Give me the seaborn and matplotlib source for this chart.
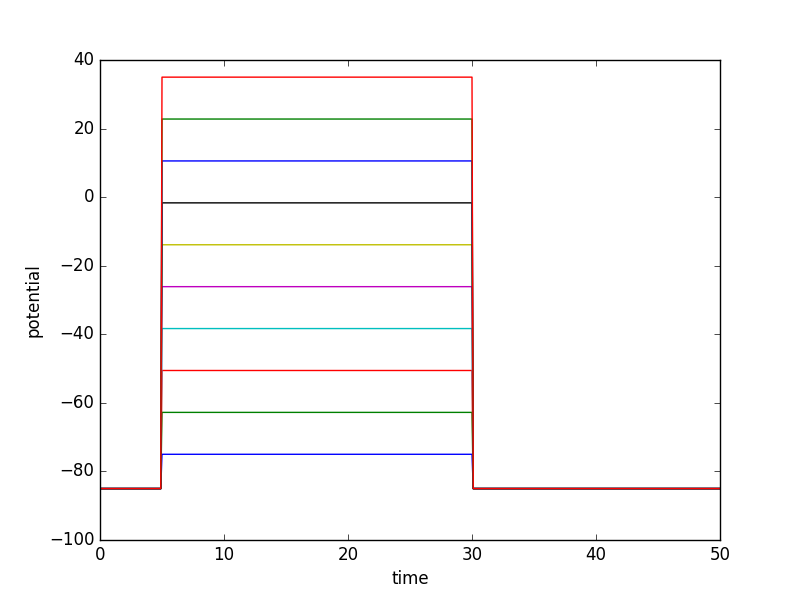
import matplotlib
matplotlib.use("Agg")
import matplotlib.pyplot as plt
import seaborn as sns
import pandas as pd

plt.style.use("classic")

time_points = [0.0, 4.9, 5.0, 30.0, 30.1, 50.0]
rest_potential = -85.0
step_levels = [-75.0, -62.78, -50.56, -38.33, -26.11, -13.89, -1.67, 10.56, 22.78, 35.0]
line_colors = ["b", "g", "r", "c", "m", "y", "k", "b", "g", "r"]

rows = []
for i, lvl in enumerate(step_levels):
    vals = [rest_potential, rest_potential, lvl, lvl, rest_potential, rest_potential]
    for t, v in zip(time_points, vals):
        rows.append({"time": t, "potential": v, "trace": i})
df = pd.DataFrame(rows)

fig, ax = plt.subplots(figsize=(8, 6), dpi=100)
fig.patch.set_facecolor("white")
for i in range(len(step_levels)):
    sns.lineplot(data=df[df["trace"] == i], x="time", y="potential",
                 color=line_colors[i], ax=ax, linewidth=1, legend=False,
                 estimator=None, sort=False)

ax.set_xlim(0, 50)
ax.set_ylim(-100, 40)
ax.set_xlabel("time")
ax.set_ylabel("potential")
fig.savefig("out.png", dpi=100, facecolor="white")
